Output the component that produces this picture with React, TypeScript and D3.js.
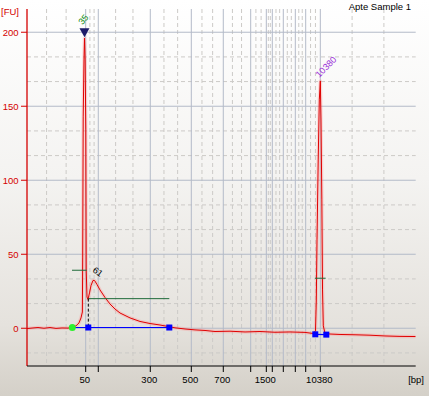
import React from 'react';
import * as d3 from 'd3';

const W = 429;
const H = 396;

const title = 'Apte Sample 1';
const yUnit = '[FU]';
const xUnit = '[bp]';
const yTicks = [0, 50, 100, 150, 200];

// ladder sizes (bp) and their migration times (s)
const ladderBp = [50, 100, 300, 500, 700, 1000, 1500, 2000, 3000, 4000, 7000, 10380];
const ladderTime = [35.1, 38.34, 51.72, 62.27, 70.5, 77.55, 81.57, 83.11, 85.94, 89.03, 91.7, 95.46];
const labeledBp = [50, 300, 500, 700, 1500, 10380];

// electropherogram trace: time (s) and fluorescence (FU)
const traceTime = [
  20.0, 21.54, 22.83, 24.37, 25.92, 27.46, 29.0, 30.55, 31.58, 32.61, 33.38, 33.89, 34.25, 34.33,
  34.46, 34.66, 34.79, 34.95, 35.13, 35.23, 35.44, 35.69, 36.08, 36.47, 36.98, 37.37, 38.01, 38.78,
  40.07, 41.35, 42.64, 43.93, 46.5, 49.07, 51.65, 54.22, 56.28, 58.08, 60.65, 63.22, 65.8, 68.37,
  72.23, 76.09, 79.94, 83.8, 87.66, 91.52, 93.58, 94.22, 94.43, 94.61, 94.92, 95.2, 95.46, 95.64,
  95.85, 96.03, 96.23, 96.67, 97.95, 100.53, 104.39, 108.24, 112.1, 115.96, 120.0,
];
const traceFU = [
  -0.2, 0.2, 0.5, 0.0, 0.5, -0.1, 0.2, 0.1, 0.6, 1.6, 3.6, 7.0, 11.0, 47.5,
  142.8, 181.3, 196.0, 181.3, 134.0, 39.4, 21.1, 19.5, 23.9, 28.9, 32.3, 32.3, 29.6, 25.9,
  20.8, 16.4, 13.0, 10.3, 7.0, 4.6, 3.2, 2.2, 1.2, 0.3, -0.5, -1.1, -1.5, -2.2,
  -2.0, -2.5, -2.2, -2.7, -2.5, -2.8, -3.5, -1.8, 19.1, 59.7, 113.7, 154.3, 167.1, 140.7,
  86.7, 25.9, 1.6, -3.5, -3.9, -4.2, -4.4, -4.7, -5.2, -5.5, -5.6,
];

// peak annotations
const lowerMarkerLabel = '35';
const lowerMarkerTime = 34.79;
const lowerMarkerFU = 196.6;
const lowerMarkerWidth = [31.58, 35.36, 39.2]; // t1, t2, FU
const upperMarkerLabel = '10380';
const upperMarkerTime = 95.46;
const upperMarkerFU = 167.1;
const upperMarkerWidth = [94.09, 96.84, 33.8];
const upperMarkerBase = [
  [94.17, -4.1],
  [97.0, -4.3],
];
const smearLabel = '61';
const smearPeakTime = 36.98;
const smearPeakFU = 32.3;
const smearStart = [31.65, 0.5];
const smearMid = [35.77, 0.5];
const smearEnd = [56.61, 0.5];
const smearLevel = 20;

export default function App() {
  const x = d3.scaleLinear().domain([20, 120]).range([27, 415.7]);
  const y = d3.scaleLinear().domain([-25.5, 215.7]).range([366, 9]);
  const [x0, x1] = x.range();
  const [yb, yt] = y.range();

  // dashed grid: thirds between solid grid lines
  const vBounds = [x.domain()[0], ...ladderTime, x.domain()[1]];
  const vDashed: number[] = [];
  for (let i = 0; i < vBounds.length - 1; i++) {
    const a = vBounds[i], b = vBounds[i + 1];
    vDashed.push(a + (b - a) / 3, a + (2 * (b - a)) / 3);
  }
  const hDashed: number[] = [];
  for (let v = -50; v <= 250; v += 50 / 3) {
    const r = Math.round(v * 3) / 3;
    if (Math.abs(r / 50 - Math.round(r / 50)) > 0.01 && r > y.domain()[0] && r < y.domain()[1]) hDashed.push(r);
  }

  const line = d3
    .line<number>()
    .x((_, i) => x(traceTime[i]))
    .y((d) => y(d));
  const tracePath = line(traceFU) || '';

  const font = '"Liberation Sans", Arial, sans-serif';
  const red = '#d40000';
  const gridSolid = '#b3bac8';
  const gridDash = '#cccac7';
  const blue = '#0000ff';

  const sq = (cx: number, cy: number, key: string) => (
    <rect key={key} x={cx - 3} y={cy - 3} width={6} height={6} fill={blue} />
  );

  const lmx = x(lowerMarkerTime);
  const lmy = y(lowerMarkerFU);

  return (
    <svg width={W} height={H} style={{ position: 'absolute', left: 0, top: 0 }} fontFamily={font}>
      <defs>
        <linearGradient id="bg" x1="0" y1="0" x2="0" y2="1">
          <stop offset="0" stopColor="#ffffff" />
          <stop offset="0.45" stopColor="#f4f3f1" />
          <stop offset="0.82" stopColor="#e5e2dd" />
          <stop offset="1" stopColor="#d4d0c8" />
        </linearGradient>
        <clipPath id="plot">
          <rect x={x0} y={yt} width={x1 - x0} height={yb - yt} />
        </clipPath>
      </defs>
      <rect x={0} y={0} width={W} height={H} fill="url(#bg)" />

      {/* grid */}
      <g>
        {vDashed.map((t, i) => (
          <line key={'vd' + i} x1={x(t)} x2={x(t)} y1={yt} y2={yb} stroke={gridDash} strokeDasharray="4,3" />
        ))}
        {hDashed.map((v, i) => (
          <line key={'hd' + i} x1={x0} x2={x1} y1={y(v)} y2={y(v)} stroke={gridDash} strokeDasharray="4,3" />
        ))}
        {ladderTime.map((t, i) => (
          <line key={'vs' + i} x1={x(t)} x2={x(t)} y1={yt} y2={yb} stroke={gridSolid} />
        ))}
        {yTicks.map((v) => (
          <line key={'hs' + v} x1={x0} x2={x1} y1={y(v)} y2={y(v)} stroke={gridSolid} />
        ))}
      </g>

      {/* trace */}
      <g clipPath="url(#plot)">
        <path d={tracePath} fill="none" stroke="rgba(255,140,140,0.3)" strokeWidth={3.5} strokeLinejoin="round" />
        <path d={tracePath} fill="none" stroke="#e00000" strokeWidth={1} strokeLinejoin="round" />
      </g>

      {/* annotations */}
      <line x1={x(lowerMarkerWidth[0])} x2={x(lowerMarkerWidth[1])} y1={y(lowerMarkerWidth[2])} y2={y(lowerMarkerWidth[2])} stroke="#1f6b3a" strokeWidth={1} />
      <line x1={x(upperMarkerWidth[0])} x2={x(upperMarkerWidth[1])} y1={y(upperMarkerWidth[2])} y2={y(upperMarkerWidth[2])} stroke="#1f6b3a" strokeWidth={1} />
      <line x1={x(smearMid[0])} x2={x(smearEnd[0])} y1={y(smearLevel)} y2={y(smearLevel)} stroke="#1f6b3a" strokeWidth={1} />
      <line x1={x(smearMid[0])} x2={x(smearMid[0])} y1={y(smearLevel)} y2={y(smearMid[1])} stroke="#000" strokeDasharray="3,2" strokeWidth={1} />
      <line x1={x(smearStart[0])} x2={x(smearEnd[0])} y1={y(smearStart[1])} y2={y(smearEnd[1])} stroke={blue} strokeWidth={1.2} />
      <line x1={x(upperMarkerBase[0][0])} x2={x(upperMarkerBase[1][0])} y1={y(upperMarkerBase[0][1])} y2={y(upperMarkerBase[1][1])} stroke={blue} strokeWidth={1.2} />
      {sq(x(smearMid[0]), y(smearMid[1]), 's1')}
      {sq(x(smearEnd[0]), y(smearEnd[1]), 's2')}
      {sq(x(upperMarkerBase[0][0]), y(upperMarkerBase[0][1]), 'u1')}
      {sq(x(upperMarkerBase[1][0]), y(upperMarkerBase[1][1]), 'u2')}
      <circle cx={x(smearStart[0])} cy={y(smearStart[1])} r={3.5} fill="#2df02d" />

      {/* marker triangle */}
      <path d={`M${lmx - 5},${lmy - 9}L${lmx + 5},${lmy - 9}L${lmx},${lmy}Z`} fill="#1c1c6a" />
      <text transform={`translate(${lmx - 2},${lmy - 12}) rotate(-50)`} fontSize={9} fill="#0a8a0a">
        {lowerMarkerLabel}
      </text>
      <text transform={`translate(${x(upperMarkerTime) - 1},${y(upperMarkerFU) - 3}) rotate(-45)`} fontSize={9} fill="#9a30d8">
        {upperMarkerLabel}
      </text>
      <text transform={`translate(${x(smearPeakTime) - 1},${y(smearPeakFU) - 9}) rotate(35)`} fontSize={9} fill="#000">
        {smearLabel}
      </text>

      {/* y axis */}
      <line x1={x0} x2={x0} y1={yt} y2={yb} stroke={red} strokeWidth={1.3} />
      {yTicks.map((v) => (
        <g key={'yt' + v}>
          <line x1={x0 - 6} x2={x0} y1={y(v)} y2={y(v)} stroke={red} />
          <text x={x0 - 8.5} y={y(v) + 3.3} textAnchor="end" fontSize={9.5} fill={red}>
            {v}
          </text>
        </g>
      ))}
      <text x={1} y={15} fontSize={9.5} fill={red}>
        {yUnit}
      </text>

      {/* x axis */}
      <line x1={x0} x2={x1} y1={yb} y2={yb} stroke="#000" strokeWidth={1} />
      {ladderTime.map((t, i) => (
        <g key={'xt' + i}>
          <line x1={x(t)} x2={x(t)} y1={yb} y2={yb + 6} stroke="#000" />
          {labeledBp.includes(ladderBp[i]) && (
            <text x={x(t) - 1} y={yb + 17} textAnchor="middle" fontSize={9.5} fill="#000">
              {ladderBp[i]}
            </text>
          )}
        </g>
      ))}
      <text x={424} y={yb + 17} textAnchor="end" fontSize={9.5} fill="#000">
        {xUnit}
      </text>

      <text x={411} y={10} textAnchor="end" fontSize={9.5} fill="#000">
        {title}
      </text>
    </svg>
  );
}
